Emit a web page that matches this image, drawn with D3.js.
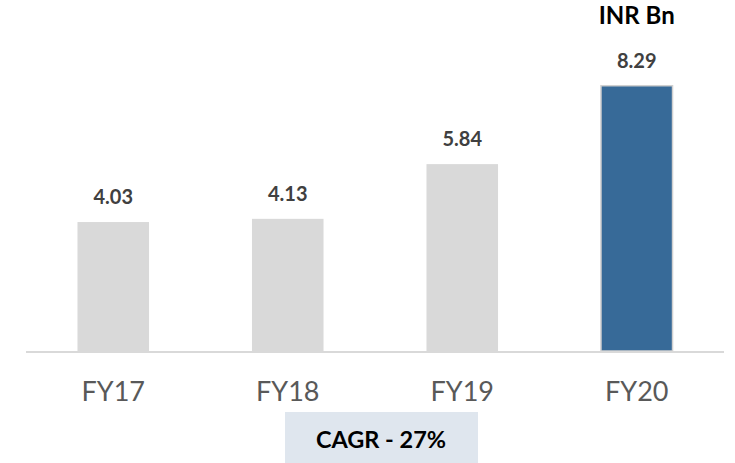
<!DOCTYPE html>
<html>
<head>
<meta charset="utf-8">
<script src="https://cdn.jsdelivr.net/npm/d3@7"></script>
<style>
  body { margin: 0; background: #fff; }
  text { font-family: Lato, "Open Sans", sans-serif; }
</style>
</head>
<body>
<div id="chart"></div>
<script>
// chart data
const years = ["FY17", "FY18", "FY19", "FY20"];
const revenue = [4.03, 4.13, 5.84, 8.29];
const unitLabel = "INR Bn";
const cagrLabel = "CAGR - 27%";

const width = 735, height = 463;

const svg = d3.select("#chart").append("svg")
    .attr("width", width)
    .attr("height", height);

const x = d3.scaleBand()
    .domain(years)
    .range([26, 724])
    .paddingInner(0.59)
    .paddingOuter(0.295);

const y = d3.scaleLinear()
    .domain([0, 10])
    .range([351, 31]);

// bars
svg.selectAll("rect.bar")
    .data(years)
    .join("rect")
    .attr("class", "bar")
    .attr("x", d => x(d))
    .attr("width", x.bandwidth())
    .attr("y", (d, i) => y(revenue[i]))
    .attr("height", (d, i) => y(0) - y(revenue[i]))
    .attr("fill", (d, i) => i === years.length - 1 ? "#376a98" : "#d9d9d9")
    .attr("stroke", (d, i) => i === years.length - 1 ? "#d0d0d0" : "none")
    .attr("stroke-width", 1.5);

// baseline
svg.append("line")
    .attr("x1", 26).attr("x2", 724)
    .attr("y1", y(0) + 1).attr("y2", y(0) + 1)
    .attr("stroke", "#d9d9d9")
    .attr("stroke-width", 2);

// value labels
svg.selectAll("text.value")
    .data(years)
    .join("text")
    .attr("class", "value")
    .attr("x", d => x(d) + x.bandwidth() / 2)
    .attr("y", (d, i) => y(revenue[i]) - 18)
    .attr("text-anchor", "middle")
    .attr("font-size", 20)
    .attr("font-weight", 700)
    .attr("fill", "#404040")
    .text((d, i) => revenue[i].toFixed(2));

// x axis labels
svg.selectAll("text.cat")
    .data(years)
    .join("text")
    .attr("class", "cat")
    .attr("x", d => x(d) + x.bandwidth() / 2)
    .attr("y", 401)
    .attr("text-anchor", "middle")
    .attr("font-size", 27)
    .attr("fill", "#595959")
    .text(d => d);

// unit label over last bar
svg.append("text")
    .attr("x", x("FY20") + x.bandwidth() / 2)
    .attr("y", 24)
    .attr("text-anchor", "middle")
    .attr("font-size", 24)
    .attr("font-weight", 700)
    .attr("fill", "#000")
    .text(unitLabel);

// CAGR box
svg.append("rect")
    .attr("x", 285).attr("y", 412)
    .attr("width", 193).attr("height", 51)
    .attr("fill", "#dfe6ee");

svg.append("text")
    .attr("x", 381)
    .attr("y", 448)
    .attr("text-anchor", "middle")
    .attr("font-size", 23.5)
    .attr("font-weight", 700)
    .attr("fill", "#000")
    .text(cagrLabel);
</script>
</body>
</html>
